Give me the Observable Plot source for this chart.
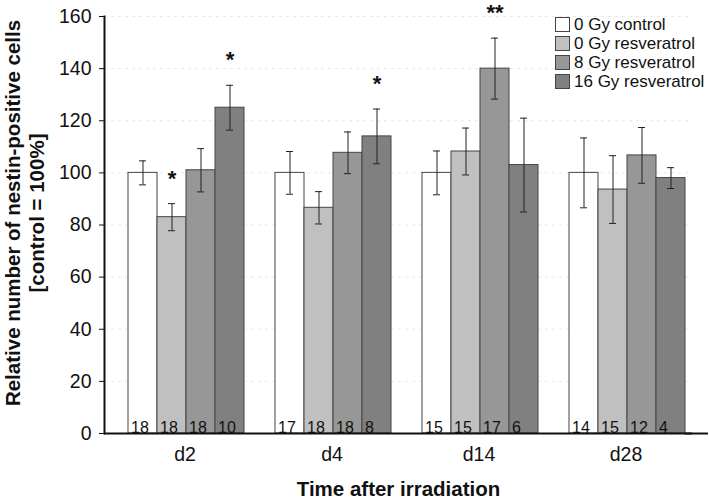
<!DOCTYPE html>
<html>
<head>
<meta charset="utf-8">
<script src="https://cdn.jsdelivr.net/npm/d3@7"></script>
<script src="https://cdn.jsdelivr.net/npm/@observablehq/plot@0.6"></script>
<style>
  html, body { margin: 0; padding: 0; background: #fff; }
  #wrap { position: relative; width: 709px; height: 500px; font-family: "Liberation Sans", Arial, sans-serif; }
  #wrap svg { overflow: visible; }
  #legend { position: absolute; left: 555px; top: 15px; font-size: 17px; line-height: 19px; color: #111; }
  #legend .row { display: flex; align-items: center; height: 19px; }
  #legend .sw { width: 13px; height: 13px; border: 1px solid #444; margin-right: 4px; box-sizing: content-box; }
</style>
</head>
<body>
<div id="wrap"><div id="legend"></div></div>
<script>
const days = ["d2", "d4", "d14", "d28"];
const series = ["0 Gy control", "0 Gy resveratrol", "8 Gy resveratrol", "16 Gy resveratrol"];
const colors = ["#ffffff", "#c0c0c0", "#979797", "#808080"];

// values per series, ordered by days
const meanControl = [100, 100, 100, 100];
const meanResv0 = [83, 86.6, 108.2, 93.6];
const meanGy8 = [101, 107.7, 140, 106.7];
const meanGy16 = [125, 114, 103, 98];

const errControl = [4.6, 8.2, 8.4, 13.4];
const errResv0 = [5.2, 6.2, 9, 13];
const errGy8 = [8.3, 8, 11.7, 10.7];
const errGy16 = [8.6, 10.5, 18, 4];

const nControl = [18, 17, 15, 14];
const nResv0 = [18, 18, 15, 15];
const nGy8 = [18, 18, 17, 12];
const nGy16 = [10, 8, 6, 4];

const sigControl = ["", "", "", ""];
const sigResv0 = ["*", "", "", ""];
const sigGy8 = ["", "", "**", ""];
const sigGy16 = ["*", "*", "", ""];

const yTicks = [0, 20, 40, 60, 80, 100, 120, 140, 160];

const means = [meanControl, meanResv0, meanGy8, meanGy16];
const errs = [errControl, errResv0, errGy8, errGy16];
const ns = [nControl, nResv0, nGy8, nGy16];
const sigs = [sigControl, sigResv0, sigGy8, sigGy16];

const rows = [];
days.forEach((day, di) => {
  series.forEach((s, si) => {
    rows.push({
      day, series: s,
      value: means[si][di],
      lo: means[si][di] - errs[si][di],
      hi: means[si][di] + errs[si][di],
      n: ns[si][di],
      sig: sigs[si][di]
    });
  });
});
const sigRows = rows.filter(d => d.sig);
const firstFacet = [{day: days[0]}];
const lastFacet = [{day: days[days.length - 1], y: 0}];

const font = "Liberation Sans, Arial, sans-serif";

const chart = Plot.plot({
  width: 709,
  height: 500,
  marginLeft: 104,
  marginRight: 17,
  marginTop: 16,
  marginBottom: 67,
  style: {fontFamily: font, background: "white", color: "#111", overflow: "visible"},
  fx: {domain: days, padding: 0, label: null},
  x: {domain: series, paddingInner: 0, paddingOuter: 0.49, align: 0.76, axis: null},
  y: {domain: [0, 160], label: null},
  color: {domain: series, range: colors},
  marks: [
    Plot.ruleY(yTicks.filter(t => t > 0), {stroke: "#d4d4d4", strokeDasharray: "3,4", strokeOpacity: 0.5}),
    Plot.barY(rows, {fx: "day", x: "series", y: "value", fill: "series", stroke: "#454545", strokeWidth: 1}),
    Plot.ruleX(rows, {fx: "day", x: "series", y1: "lo", y2: "hi", stroke: "#222", strokeWidth: 1}),
    Plot.tickY(rows, {fx: "day", x: "series", y: "lo", stroke: "#222", strokeWidth: 1, insetLeft: 11, insetRight: 11}),
    Plot.tickY(rows, {fx: "day", x: "series", y: "hi", stroke: "#222", strokeWidth: 1, insetLeft: 11, insetRight: 11}),
    Plot.text(rows, {fx: "day", x: "series", y: 0, text: d => String(d.n), textAnchor: "start", lineAnchor: "bottom", dx: -12, dy: -1, fontSize: 16, fill: "#111"}),
    Plot.text(sigRows, {fx: "day", x: "series", y: "hi", text: "sig", lineAnchor: "middle", dy: -25, fontSize: 22, fontWeight: "bold", fill: "#111"}),
    Plot.ruleY([0], {stroke: "#111", strokeWidth: 2}),
    Plot.ruleY(lastFacet, {fx: "day", y: "y", stroke: "#111", strokeWidth: 2, insetLeft: 140, insetRight: -16}),
    Plot.frame({anchor: "left", facetAnchor: "left", stroke: "#111", strokeWidth: 2}),
    Plot.axisY({ticks: yTicks, tickSize: 5, tickPadding: 8, fontSize: 19.5, label: null}),
    Plot.axisFx({anchor: "bottom", tickSize: 0, tickPadding: 14, fontSize: 19.5, dx: 7, label: null}),
    Plot.axisFx({anchor: "bottom", tickSize: 0, tickFormat: () => "", label: "Time after irradiation", labelAnchor: "center", labelOffset: 62, labelArrow: "none", fontSize: 20.5, fontWeight: "bold"}),
    Plot.text(firstFacet, {fx: "day", text: () => "Relative number of nestin-positive cells\n[control = 100%]", frameAnchor: "left", rotate: -90, dx: -80, dy: -12, lineHeight: 1.15, fontSize: 20.5, fontWeight: "bold", textAnchor: "middle", lineAnchor: "middle", fill: "#111"})
  ]
});

const wrap = document.getElementById("wrap");
wrap.insertBefore(chart, wrap.firstChild);

const legend = document.getElementById("legend");
series.forEach((s, i) => {
  const row = document.createElement("div");
  row.className = "row";
  const sw = document.createElement("span");
  sw.className = "sw";
  sw.style.background = colors[i];
  row.appendChild(sw);
  const t = document.createElement("span");
  t.textContent = s;
  row.appendChild(t);
  legend.appendChild(row);
});
</script>
</body>
</html>
